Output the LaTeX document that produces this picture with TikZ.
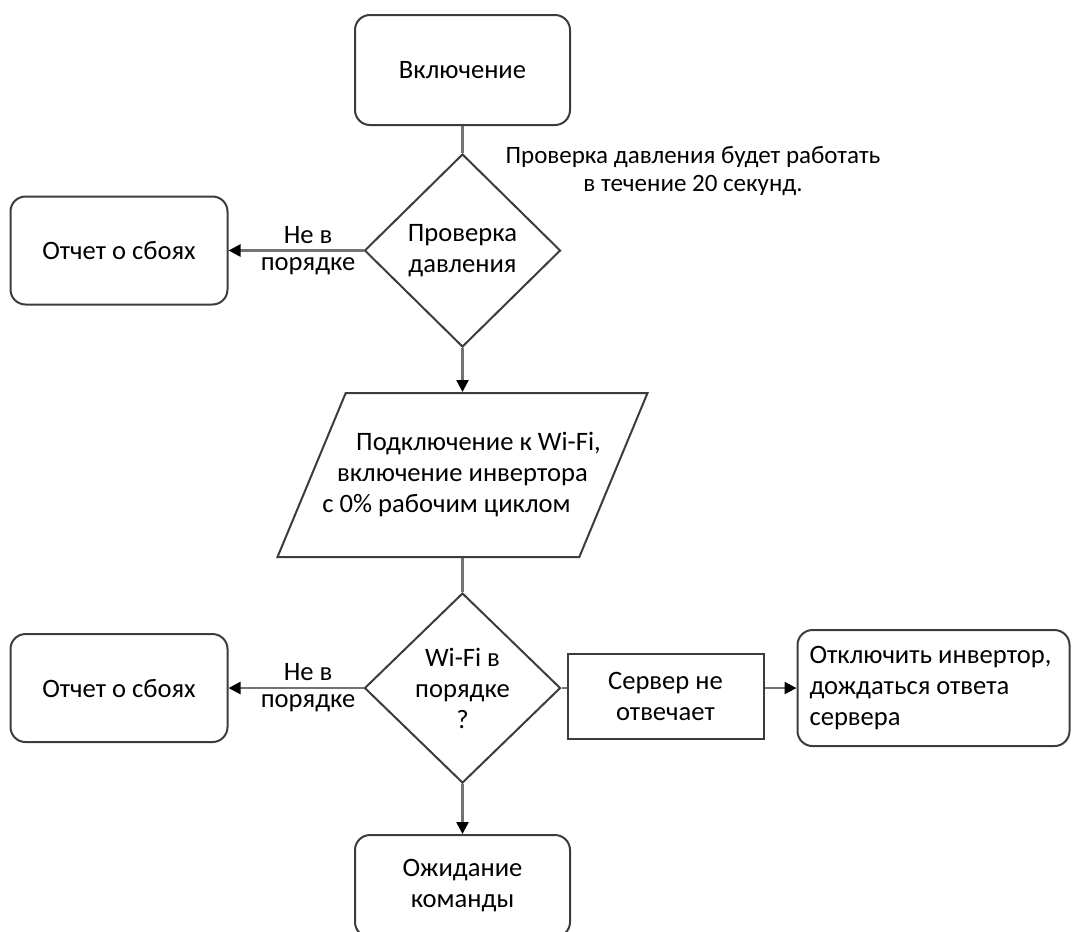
\documentclass[tikz,border=0pt]{standalone}
\usepackage{fontspec}
\setmainfont{Carlito}
\usetikzlibrary{arrows.meta,shapes.geometric,positioning}
\definecolor{linegray}{RGB}{115,115,115}
\definecolor{boxgray}{RGB}{60,60,60}

\begin{document}
\begin{tikzpicture}[ -, node distance = 1cm,
                    font=\fontsize{13.3pt}{15.5pt}\selectfont,
                    base/.style = {draw=boxgray, line width=1pt, align=center, inner sep=2pt},
                    term/.style = {base, rounded corners=7.5pt, minimum width=107.5pt},
                    fail/.style = {base, rounded corners=7.5pt, minimum width=108.5pt, minimum height=54pt},
                    decide/.style = {base, diamond, aspect=1, inner sep=0pt, minimum width=98pt, minimum height=96pt},
                    io/.style = {base, trapezium, trapezium left angle=67, trapezium right angle=113,
                                 trapezium stretches body=true, inner xsep=0pt, inner ysep=19pt,
                                 minimum width=185pt, minimum height=82pt},
                    conn/.style = {draw=linegray, line width=1.2pt},
                    arr/.style = {conn, -{Triangle[length=6pt,width=6pt,color=black]}},
                    lbl/.style = {align=center, inner sep=0pt, font=\fontsize{13.3pt}{13.5pt}\selectfont}]
\useasboundingbox (0,0) rectangle (536pt,-466pt);
    \node[term, minimum height=55pt] (start) at (231.25pt,-35pt) {Включение};
\node[decide, minimum height=96.5pt, below=13.5pt of start] (check) {Проверка\\давления};
\node[fail, left=67.5pt of check] (fail1) {Отчет о сбоях};
\node[io, below=22pt of check] (wifi) {\makebox[0pt]{\hspace{16pt}Подключение к Wi-Fi,}\\
      \makebox[0pt]{включение инвертора}\\\makebox[0pt]{с 0\% рабочим циклом\hspace{16pt}}};
\node[decide, minimum height=95pt, below=17pt of wifi] (wifiok) {Wi-Fi в\\порядке\\?};
\node[fail, left=67.5pt of wifiok] (fail2) {Отчет о сбоях};
\node[base, minimum width=98pt, minimum height=42.5pt, right=2.5pt of wifiok, yshift=-4pt] (server) {Сервер не\\отвечает};
\node[base, rounded corners=7.5pt, text width=124pt, align=flush left, inner xsep=6pt, minimum height=58pt,
      right=16pt of server, yshift=4pt] (off) {Отключить инвертор,\\дождаться ответа\\сервера};
\node[term, minimum height=51pt, below=25pt of wifiok] (wait) {Ожидание\\команды};
\node[align=center, font=\fontsize{12.5pt}{14pt}\selectfont] (note) at (346.5pt,-85.5pt) {Проверка давления будет работать\\в течение 20 секунд.};
    \path (start) edge[conn] (check)
(check) edge[arr] node[lbl, pos=0.41] {Не в\\порядке} (fail1)
(check) edge[arr] (wifi)
(wifi) edge[conn] (wifiok)
(wifiok) edge[arr] node[lbl, pos=0.41] {Не в\\порядке} (fail2)
(wifiok.east) edge[conn] (wifiok.east -| server.west)
(off.west -| server.east) edge[arr] (off.west)
(wifiok) edge[arr] (wait);
\end{tikzpicture}
\end{document}
